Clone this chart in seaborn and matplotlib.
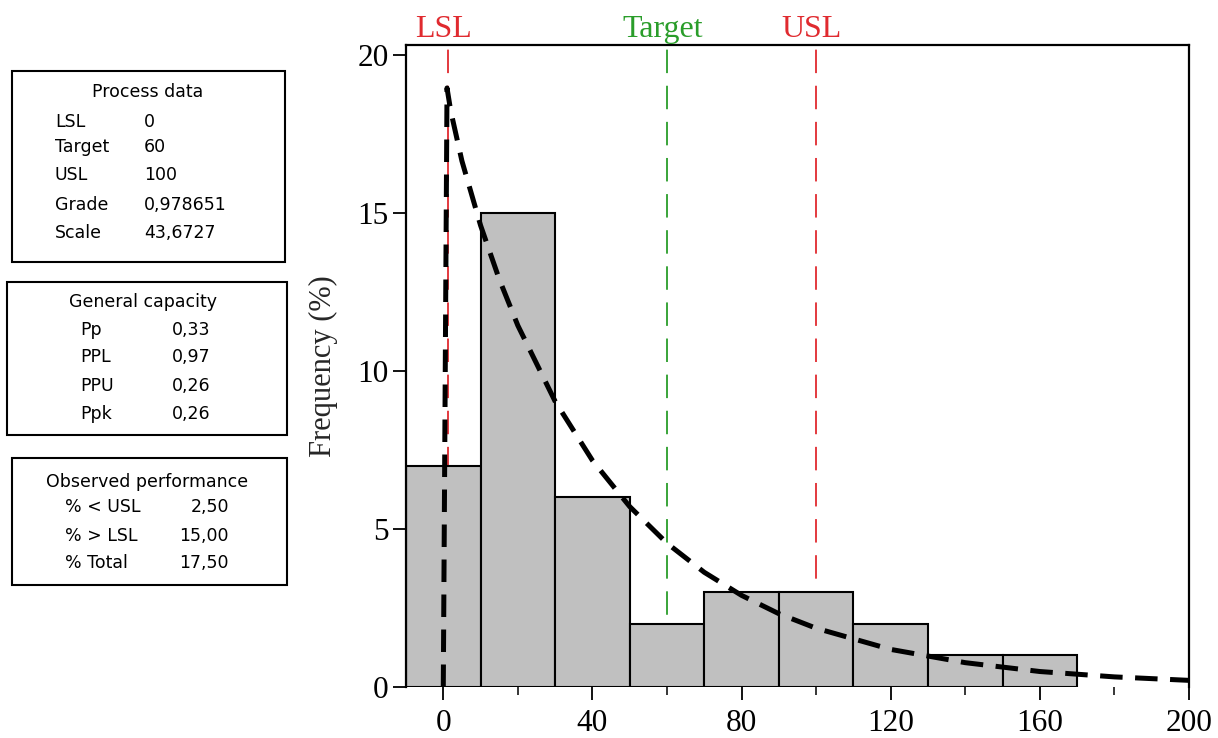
from matplotlib import pyplot as plt
from matplotlib.patches import Rectangle
import seaborn as sns
import pandas as pd

# histogram (bin centres and heights)
bin_centers = [0, 20, 40, 60, 80, 100, 120, 140, 160]
frequency = [7, 15, 6, 2, 3, 3, 2, 1, 1]

# fitted curve
curve_x = [0, 1, 2, 5, 10, 15, 20, 30, 40, 50, 60, 70, 80, 90, 100, 120, 140, 160, 180, 200]
curve_y = [0, 18.96, 18.23, 16.65, 14.61, 12.91, 11.44, 9.04, 7.17, 5.71, 4.55, 3.63,
           2.90, 2.32, 1.86, 1.19, 0.77, 0.49, 0.32, 0.21]

# spec limits
spec_names = ['LSL', 'Target', 'USL']
spec_x = [1.2, 60, 100]
spec_colors = ['#e02a2f', '#2a9d2a', '#e02a2f']

x_ticks = [0, 40, 80, 120, 160, 200]
y_ticks = [0, 5, 10, 15, 20]

process_labels = ['LSL', 'Target', 'USL', 'Grade', 'Scale']
process_values = ['0', '60', '100', '0,978651', '43,6727']
capacity_labels = ['Pp', 'PPL', 'PPU', 'Ppk']
capacity_values = ['0,33', '0,97', '0,26', '0,26']
observed_labels = ['% < USL', '% > LSL', '% Total']
observed_values = ['2,50', '15,00', '17,50']

W, H = 1218, 738

sns.set_style('ticks')
plt.rcParams['font.family'] = ['Liberation Serif', 'DejaVu Serif']

fig = plt.figure(figsize=(W / 100, H / 100), dpi=100)
ax = fig.add_axes([406 / W, 1 - 687 / H, (1189 - 406) / W, (687 - 45) / H])


def px(x, y):
    return x / W, 1 - y / H


# spec lines sit behind the bars
for name, x, c in zip(spec_names, spec_x, spec_colors):
    ax.axvline(x, color=c, lw=1.3, linestyle=(0, (13, 7)), zorder=1)
    ax.text(x - 1.2, 1.012, name, transform=ax.get_xaxis_transform(), ha='center',
            va='baseline', color=c, fontsize=23)

hist_df = pd.DataFrame({'value': bin_centers, 'freq': frequency})
sns.histplot(data=hist_df, x='value', weights='freq', binwidth=20, binrange=(-10, 170),
             ax=ax, color='#c0c0c0', edgecolor='black', linewidth=1.5, alpha=1, zorder=2)

sns.lineplot(x=curve_x, y=curve_y, ax=ax, color='black', lw=3.6,
             linestyle=(0, (4.5, 2.5)), zorder=3)

ax.set_xlim(-10, 200)
ax.set_ylim(0, 20.32)
ax.set_xticks(x_ticks)
ax.set_xticks([20, 60, 100, 140, 180], minor=True)
ax.set_yticks(y_ticks)
ax.tick_params(axis='both', which='major', direction='out', length=9.5, width=1.3,
               labelsize=22.5, colors='black', pad=3)
ax.tick_params(axis='x', which='major', pad=6)
ax.tick_params(axis='x', which='minor', direction='out', length=6, width=1.3)
ax.set_xlabel('')
ax.set_ylabel('Frequency (%)', fontsize=22, labelpad=14)
for side in ['top', 'left', 'right']:
    ax.spines[side].set_linewidth(1.6)
    ax.spines[side].set_color('black')
ax.spines['bottom'].set_visible(False)

# info boxes on the left
box_font = dict(family='DejaVu Sans', fontsize=12.5, color='black', va='center')


def add_box(x0, y0, x1, y1):
    fig.patches.append(Rectangle(px(x0, y1), (x1 - x0) / W, (y1 - y0) / H, fill=False,
                                 edgecolor='black', lw=1.5, transform=fig.transFigure))


add_box(12, 71, 285, 262)
fig.text(*px(148, 92), 'Process data', ha='center', **box_font)
for lab, val, y in zip(process_labels, process_values, [122, 147, 175, 205, 233]):
    fig.text(*px(55, y), lab, ha='left', **box_font)
    fig.text(*px(144, y), val, ha='left', **box_font)

add_box(7, 282, 287, 435)
fig.text(*px(143, 302), 'General capacity', ha='center', **box_font)
for lab, val, y in zip(capacity_labels, capacity_values, [330, 357, 386, 414]):
    fig.text(*px(80, y), lab, ha='left', **box_font)
    fig.text(*px(172, y), val, ha='left', **box_font)

add_box(12, 458, 287, 585)
fig.text(*px(147, 482), 'Observed performance', ha='center', **box_font)
for lab, val, y in zip(observed_labels, observed_values, [507, 536, 563]):
    fig.text(*px(65, y), lab, ha='left', **box_font)
    fig.text(*px(229, y), val, ha='right', **box_font)

fig.savefig('out.png', dpi=100)
